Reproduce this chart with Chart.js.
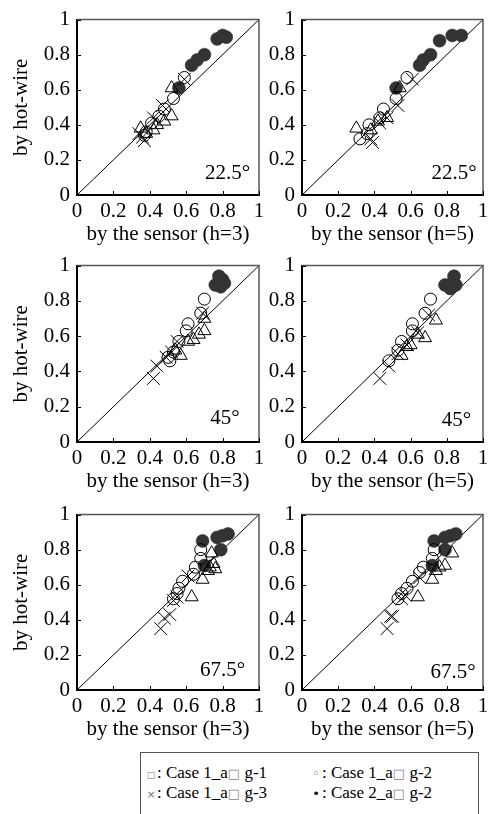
<!DOCTYPE html>
<html>
<head>
<meta charset="utf-8">
<script src="https://cdn.jsdelivr.net/npm/chart.js@4.4.1/dist/chart.umd.min.js"></script>
<style>
  html, body { margin:0; padding:0; background:#fff; }
  #wrap { position:relative; width:500px; height:814px; overflow:hidden; background:#fff; }
  canvas { position:absolute; }
  #legend { position:absolute; left:140px; top:752px; width:337px; height:90px; border:1.5px solid #555;
            font-family:"Liberation Serif", "Times New Roman", serif; font-size:17px; color:#000; }
  .item { position:absolute; white-space:nowrap; line-height:18px; }
  .mk { display:inline-block; width:12px; text-align:center; color:#777; }
  .tofu { font-family:"DejaVu Sans", sans-serif; font-size:13px; color:#888; }
</style>
</head>
<body>
<div id="wrap">
  <div id="legend">
    <div class="item" style="left:4px;top:11px;"><span class="mk" style="font-size:9px;font-family:'DejaVu Sans'">□</span>: Case 1_a<span class="tofu">□</span> g-1</div>
    <div class="item" style="left:169px;top:11px;"><span class="mk" style="font-size:13px;font-family:'DejaVu Sans'">◦</span>: Case 1_a<span class="tofu">□</span> g-2</div>
    <div class="item" style="left:4px;top:31px;"><span class="mk" style="font-size:11px;font-family:'DejaVu Sans'">×</span>: Case 1_a<span class="tofu">□</span> g-3</div>
    <div class="item" style="left:169px;top:31px;"><span class="mk" style="font-size:13px;color:#111;font-family:'DejaVu Sans'">•</span>: Case 2_a<span class="tofu">□</span> g-2</div>
  </div>
</div>
<script>
// ---------------- DATA ----------------
const tickValues = [0, 0.2, 0.4, 0.6, 0.8, 1];
const tickLabels = ['0', '0.2', '0.4', '0.6', '0.8', '1'];
const yTitle = 'by hot-wire';
const xTitles = ['by the sensor (h=3)', 'by the sensor (h=5)', 'by the sensor (h=3)', 'by the sensor (h=5)', 'by the sensor (h=3)', 'by the sensor (h=5)'];
const angleLabels = ['22.5°', '22.5°', '45°', '45°', '67.5°', '67.5°'];
const seriesNames = ['Case 1_ang-1', 'Case 1_ang-2', 'Case 1_ang-3', 'Case 2_ang-2'];

// panel 1: 22.5°, h=3
const p1Ang1 = [[0.52,0.61],[0.52,0.45],[0.48,0.42],[0.44,0.40],[0.42,0.37],[0.35,0.38],[0.38,0.35]];
const p1Ang2 = [[0.59,0.67],[0.53,0.55],[0.48,0.49],[0.45,0.45],[0.41,0.41],[0.38,0.36],[0.37,0.34]];
const p1Ang3 = [[0.59,0.66],[0.47,0.51],[0.42,0.44],[0.34,0.35],[0.37,0.31],[0.36,0.33]];
const p1Case2 = [[0.77,0.89],[0.80,0.91],[0.82,0.90],[0.70,0.80],[0.66,0.77],[0.63,0.74],[0.56,0.61]];
// panel 2: 22.5°, h=5
const p2Ang1 = [[0.54,0.61],[0.47,0.44],[0.30,0.38],[0.38,0.37],[0.42,0.42]];
const p2Ang2 = [[0.58,0.67],[0.52,0.55],[0.45,0.49],[0.43,0.44],[0.37,0.40],[0.32,0.32],[0.36,0.35]];
const p2Ang3 = [[0.61,0.66],[0.53,0.51],[0.47,0.44],[0.43,0.41],[0.38,0.32],[0.39,0.30]];
const p2Case2 = [[0.88,0.91],[0.83,0.91],[0.76,0.88],[0.71,0.80],[0.67,0.77],[0.65,0.74],[0.52,0.61]];
// panel 3: 45°, h=3
const p3Ang1 = [[0.70,0.70],[0.70,0.63],[0.67,0.61],[0.64,0.58],[0.61,0.57],[0.57,0.49],[0.54,0.52]];
const p3Ang2 = [[0.70,0.81],[0.68,0.73],[0.61,0.67],[0.60,0.63],[0.56,0.57],[0.50,0.48],[0.51,0.46],[0.53,0.51]];
const p3Ang3 = [[0.42,0.36],[0.44,0.43],[0.49,0.48],[0.52,0.51],[0.55,0.57],[0.69,0.73]];
const p3Case2 = [[0.78,0.94],[0.80,0.92],[0.76,0.89],[0.79,0.88],[0.81,0.90]];
// panel 4: 45°, h=5
const p4Ang1 = [[0.74,0.69],[0.68,0.59],[0.64,0.61],[0.60,0.55],[0.55,0.49],[0.58,0.54]];
const p4Ang2 = [[0.71,0.81],[0.68,0.73],[0.61,0.67],[0.61,0.63],[0.55,0.57],[0.53,0.52],[0.48,0.46]];
const p4Ang3 = [[0.43,0.36],[0.48,0.43],[0.53,0.50],[0.58,0.55],[0.64,0.62],[0.70,0.72]];
const p4Case2 = [[0.84,0.94],[0.83,0.90],[0.79,0.89],[0.85,0.89],[0.82,0.87]];
// panel 5: 67.5°, h=3
const p5Ang1 = [[0.74,0.78],[0.75,0.72],[0.72,0.68],[0.69,0.63],[0.63,0.53],[0.76,0.69],[0.73,0.70]];
const p5Ang2 = [[0.68,0.80],[0.68,0.75],[0.65,0.70],[0.64,0.66],[0.58,0.62],[0.56,0.58],[0.55,0.55],[0.53,0.52]];
const p5Ang3 = [[0.46,0.35],[0.48,0.41],[0.51,0.43],[0.53,0.51],[0.55,0.53],[0.61,0.65]];
const p5Case2 = [[0.69,0.85],[0.77,0.87],[0.80,0.88],[0.83,0.89],[0.79,0.80],[0.70,0.71]];
// panel 6: 67.5°, h=5
const p6Ang1 = [[0.83,0.78],[0.79,0.71],[0.76,0.70],[0.74,0.68],[0.72,0.63],[0.64,0.53]];
const p6Ang2 = [[0.73,0.80],[0.72,0.75],[0.67,0.70],[0.65,0.67],[0.61,0.62],[0.58,0.58],[0.55,0.55],[0.53,0.52]];
const p6Ang3 = [[0.47,0.35],[0.49,0.42],[0.50,0.42],[0.55,0.52],[0.57,0.54],[0.65,0.64]];
const p6Case2 = [[0.73,0.85],[0.79,0.87],[0.82,0.88],[0.85,0.89],[0.79,0.80],[0.72,0.71]];
// diagonal reference line (y = x)
const diagonal = [[0,0],[1,1]];

// ---------------- LAYOUT ----------------
const FONT = '"Liberation Serif", "Times New Roman", serif';
const panels = [
  { L:77,  T:15,  W:182, H:180, sets:[p1Ang1,p1Ang2,p1Ang3,p1Case2], ytitle:true,  lx:0.827, ly:0.122 },
  { L:302, T:15,  W:181, H:180, sets:[p2Ang1,p2Ang2,p2Ang3,p2Case2], ytitle:false, lx:0.84,  ly:0.12 },
  { L:77,  T:261, W:182, H:181, sets:[p3Ang1,p3Ang2,p3Ang3,p3Case2], ytitle:true,  lx:0.813, ly:0.133 },
  { L:302, T:261, W:181, H:181, sets:[p4Ang1,p4Ang2,p4Ang3,p4Case2], ytitle:false, lx:0.853, ly:0.12 },
  { L:77,  T:510, W:182, H:180, sets:[p5Ang1,p5Ang2,p5Ang3,p5Case2], ytitle:true,  lx:0.80,  ly:0.11 },
  { L:302, T:510, W:181, H:180, sets:[p6Ang1,p6Ang2,p6Ang3,p6Case2], ytitle:false, lx:0.834, ly:0.10 }
];
const YW = 77, TOPPAD = 15, RIGHTPAD = 12, XH = 50;

const framePlugin = {
  id: 'frame',
  afterDraw(chart, args, opts) {
    const { ctx, chartArea: a, scales: { x, y } } = chart;
    ctx.save();
    ctx.strokeStyle = '#555';
    ctx.lineWidth = 1.5;
    ctx.beginPath();
    ctx.moveTo(a.left, a.top); ctx.lineTo(a.right, a.top); ctx.lineTo(a.right, a.bottom);
    ctx.stroke();
    ctx.strokeStyle = '#000';
    ctx.lineWidth = 1;
    ctx.beginPath();
    x.ticks.forEach(t => { const px = Math.round(x.getPixelForValue(t.value)) + 0.5; ctx.moveTo(px, a.bottom); ctx.lineTo(px, a.bottom - 4); });
    y.ticks.forEach(t => { const py = Math.round(y.getPixelForValue(t.value)) + 0.5; ctx.moveTo(a.left, py); ctx.lineTo(a.left + 4, py); });
    ctx.stroke();
    ctx.fillStyle = '#000';
    ctx.font = '21px ' + FONT;
    ctx.textAlign = 'center';
    ctx.textBaseline = 'middle';
    ctx.fillText(opts.label, x.getPixelForValue(opts.lx), y.getPixelForValue(opts.ly));
    ctx.restore();
  }
};

const toPts = arr => arr.map(p => ({ x: p[0], y: p[1] }));
const wrap = document.getElementById('wrap');

panels.forEach((p, i) => {
  const cv = document.createElement('canvas');
  const cw = YW + p.W + RIGHTPAD, ch = TOPPAD + p.H + XH;
  cv.width = cw; cv.height = ch;
  cv.style.left = (p.L - YW) + 'px';
  cv.style.top = (p.T - TOPPAD) + 'px';
  cv.style.width = cw + 'px'; cv.style.height = ch + 'px';
  wrap.appendChild(cv);

  const datasets = [
    { label: seriesNames[2], data: toPts(p.sets[2]), pointStyle: 'crossRot', pointRadius: 9, borderColor: '#000', borderWidth: 1, backgroundColor: 'rgba(0,0,0,0)' },
    { label: seriesNames[1], data: toPts(p.sets[1]), pointStyle: 'circle', pointRadius: 6, borderColor: '#000', borderWidth: 1, backgroundColor: 'rgba(0,0,0,0)' },
    { label: seriesNames[0], data: toPts(p.sets[0]), pointStyle: 'triangle', pointRadius: 7.5, borderColor: '#000', borderWidth: 1, backgroundColor: 'rgba(0,0,0,0)' },
    { label: seriesNames[3], data: toPts(p.sets[3]), pointStyle: 'circle', pointRadius: 6.5, borderColor: '#333', borderWidth: 0.5, backgroundColor: '#333' },
    { label: 'y=x', data: toPts(diagonal), showLine: true, pointRadius: 0, borderColor: '#000', borderWidth: 1, fill: false }
  ];

  const axisFont = { family: FONT, size: 21, lineHeight: 1.2 };
  new Chart(cv, {
    type: 'scatter',
    data: { datasets },
    plugins: [framePlugin],
    options: {
      responsive: false,
      animation: false,
      devicePixelRatio: 1,
      events: [],
      layout: { padding: { top: TOPPAD, right: RIGHTPAD, left: 0, bottom: 0 } },
      plugins: {
        legend: { display: false },
        tooltip: { enabled: false },
        frame: { label: angleLabels[i], lx: p.lx, ly: p.ly }
      },
      scales: {
        x: {
          type: 'linear', min: 0, max: 1,
          afterBuildTicks: s => { s.ticks = tickValues.map(v => ({ value: v })); },
          afterFit: s => { s.height = XH; },
          ticks: { font: axisFont, color: '#000', padding: 4, maxRotation: 0, autoSkip: false,
                   callback: (v, idx) => tickLabels[idx] },
          grid: { drawOnChartArea: false, drawTicks: false },
          border: { display: true, color: '#000', width: 2 },
          title: { display: true, text: xTitles[i], color: '#000', font: { family: FONT, size: 21, lineHeight: 1 }, padding: { top: 0, bottom: 0 } }
        },
        y: {
          type: 'linear', min: 0, max: 1,
          afterBuildTicks: s => { s.ticks = tickValues.map(v => ({ value: v })); },
          afterFit: s => { s.width = YW; },
          ticks: { font: axisFont, color: '#000', padding: 7, autoSkip: false,
                   callback: (v, idx) => tickLabels[idx] },
          grid: { drawOnChartArea: false, drawTicks: false },
          border: { display: true, color: '#000', width: 2 },
          title: { display: p.ytitle, text: yTitle, color: '#000', font: { family: FONT, size: 21, lineHeight: 1 }, padding: { top: 11, bottom: 0 } }
        }
      }
    }
  });
});
</script>
</body>
</html>
